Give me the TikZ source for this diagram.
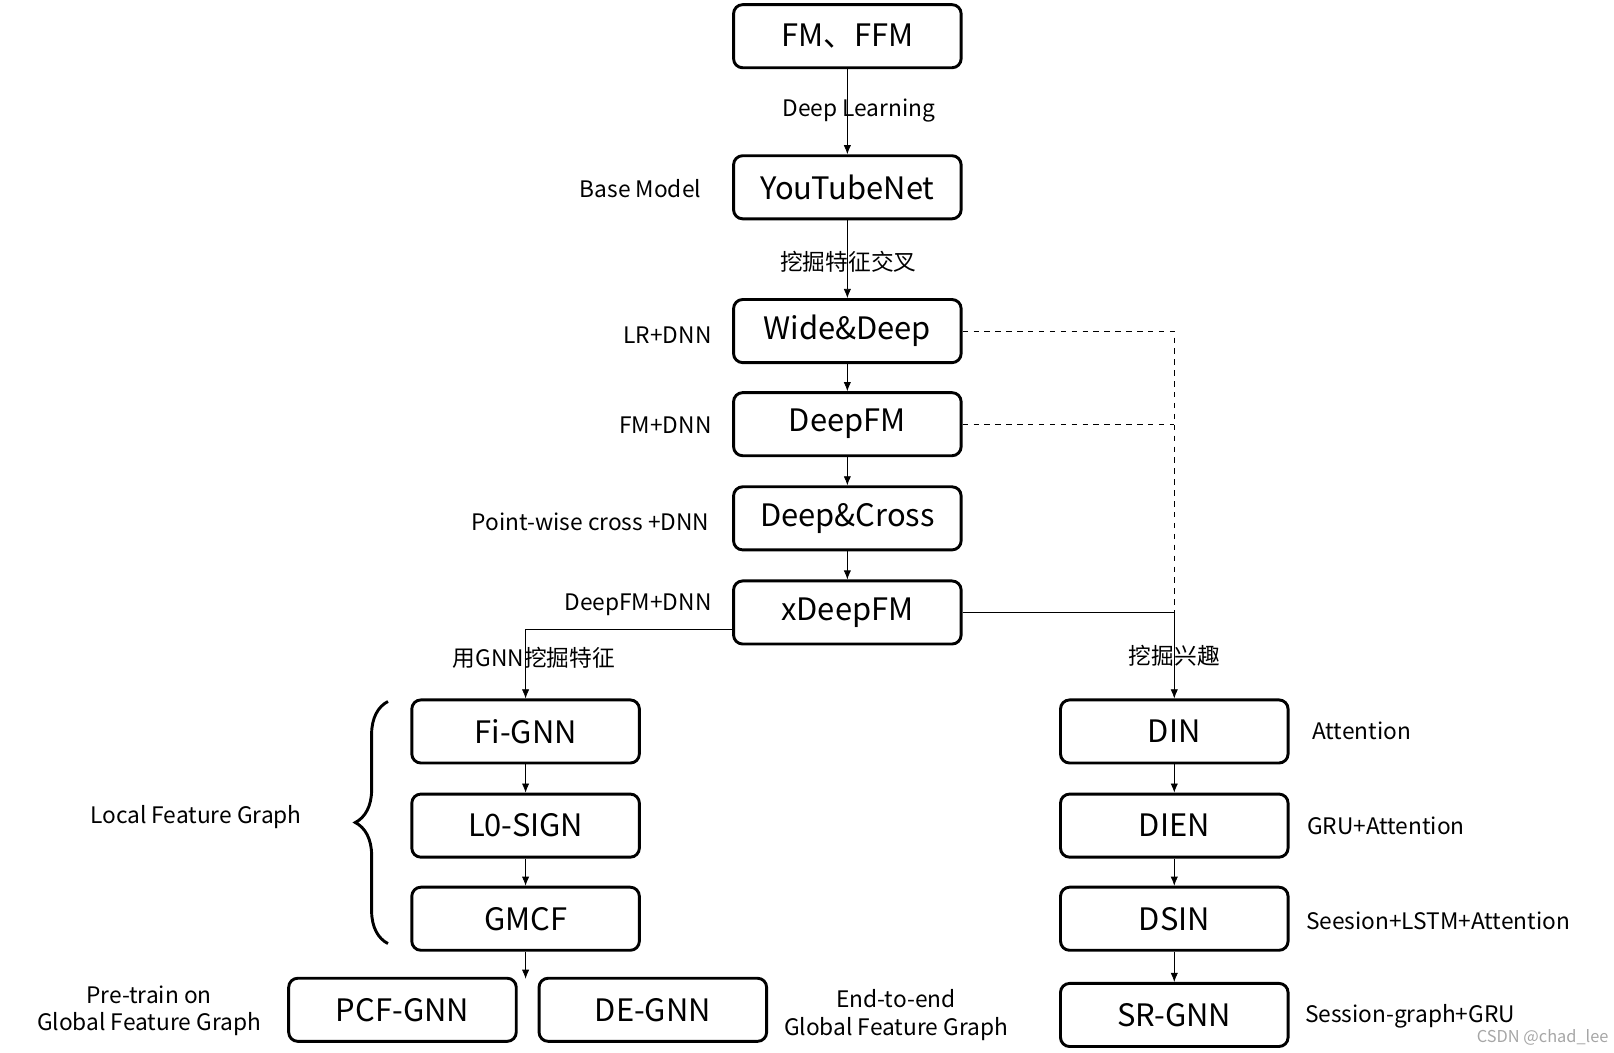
\documentclass[tikz,border=0pt]{standalone}
\usepackage{fontspec}
\setmainfont{Noto Sans CJK SC}
\usetikzlibrary{arrows.meta,positioning,decorations.pathreplacing}
\tikzset{every node/.append style={align=center}}
\definecolor{darkgray}{RGB}{80, 80, 80}

\begin{document}
\begin{tikzpicture}[x=0.02cm, y=-0.02cm,
    model/.style={draw, line width=1.6pt, rounded corners=5pt, minimum width=4.4cm, minimum height=1.22cm, font=\fontsize{17}{20}\selectfont, inner sep=0pt},
    note/.style={font=\fontsize{12.5}{15}\selectfont, inner sep=0pt},
    arrow/.style={-{Latex[length=5pt,width=4pt]}, thin}
]
    \useasboundingbox (0,0) rectangle (1560,1017);
    % Nodes - main column
    \node[model] (fm) at (819,35) {FM、FFM};
    \node[model] (youtube) at (819,181) {YouTubeNet};
    \node[model] (wide) at (819,320) {Wide\&Deep};
    \node[model] (deepfm) at (819,410) {DeepFM};
    \node[model] (cross) at (819,501) {Deep\&Cross};
    \node[model] (xdeepfm) at (819,592) {xDeepFM};

    % Nodes - GNN column
    \node[model] (figin) at (508,707) {Fi-GNN};
    \node[model] (sign) at (508,798) {L0-SIGN};
    \node[model] (gmcf) at (508,888) {GMCF};
    \node[model] (pcf) at (389,976) {PCF-GNN};
    \node[model] (degnn) at (631,976) {DE-GNN};
    \coordinate (split) at (508,946);

    % Nodes - interest column
    \node[model] (din) at (1135,707) {DIN};
    \node[model] (dien) at (1135,798) {DIEN};
    \node[model] (dsin) at (1135,888) {DSIN};
    \node[model] (srgnn) at (1135,981) {SR-GNN};

    % Labels
    \node[note, anchor=west] at (756,107) {Deep Learning};
    \node[note, anchor=east] at (678,182) {Base Model};
    \node[note] at (820,253) {挖掘特征交叉};
    \node[note, anchor=east] at (688,324) {LR+DNN};
    \node[note, anchor=east] at (688,411) {FM+DNN};
    \node[note, anchor=east] at (686,504) {Point-wise cross +DNN};
    \node[note, anchor=east] at (688,585) {DeepFM+DNN};
    \node[note] at (516,636) {用GNN挖掘特征};
    \node[note] at (1135,634) {挖掘兴趣};
    \node[note, anchor=west] at (1268,706) {Attention};
    \node[note, anchor=west] at (1263,798) {GRU+Attention};
    \node[note, anchor=west] at (1262,890) {Seesion+LSTM+Attention};
    \node[note, anchor=west] at (1261,982) {Session-graph+GRU};
    \node[note, anchor=east] (local) at (292,790) {Local Feature Graph};
    \node[note] at (144,977) {Pre-train on\\Global Feature Graph};
    \node[note] at (866,981) {End-to-end\\Global Feature Graph};
    \node[font=\small, text=gray!70, anchor=east, inner sep=0pt] at (1555,1003) {CSDN @chad\_lee};

    % Brace
    \draw[line width=1.6pt, decorate, decoration={brace, amplitude=18pt, mirror}] (375,678) -- (375,912);

    % Arrows - main column
    \draw[arrow] (fm) -- (youtube);
    \draw[arrow] (youtube) -- (wide);
    \draw[arrow] (wide) -- (deepfm);
    \draw[arrow] (deepfm) -- (cross);
    \draw[arrow] (cross) -- (xdeepfm);

    % Arrows - branches
    \draw[arrow] (xdeepfm.west |- 0,608) -| (figin);
    \draw[arrow] (xdeepfm.east) -| (din);
    \draw[dashed, thin] (wide.east) -| (1135,592);
    \draw[dashed, thin] (deepfm.east) -- (1135,410);

    % Arrows - columns
    \draw[arrow] (figin) -- (sign);
    \draw[arrow] (sign) -- (gmcf);
    \draw[arrow] (gmcf) -- (split);
    \draw[arrow] (din) -- (dien);
    \draw[arrow] (dien) -- (dsin);
    \draw[arrow] (dsin) -- (srgnn);
\end{tikzpicture}
\end{document}
